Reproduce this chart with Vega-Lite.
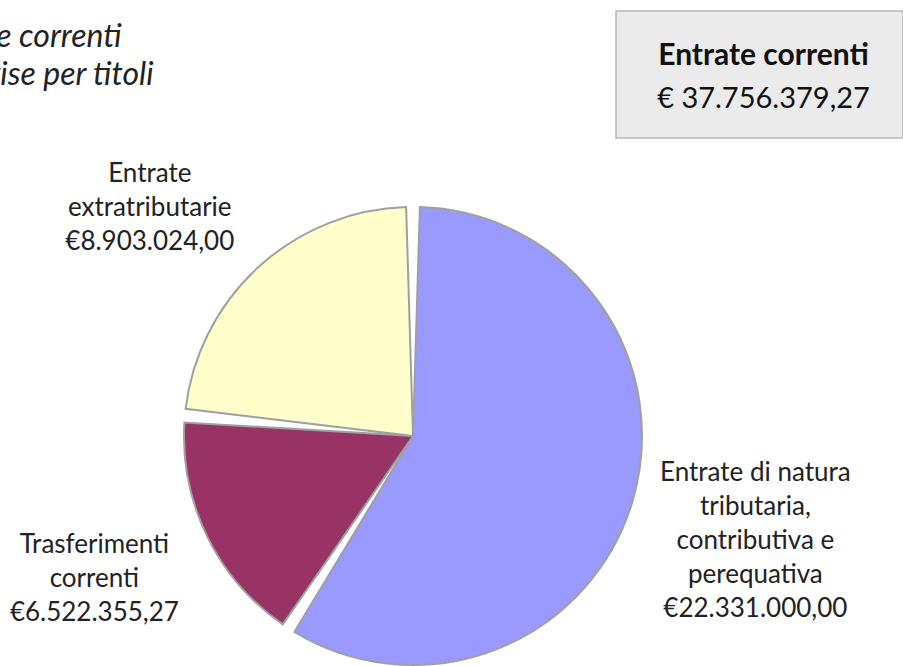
{
  "$schema": "https://vega.github.io/schema/vega-lite/v6.json",
  "padding": {"left": 0, "top": 10, "right": 0, "bottom": 0},
  "bounds": "flush",
  "spacing": 196,
  "config": {
    "font": "Lato",
    "view": {"stroke": null},
    "text": {"font": "Lato", "color": "#222222"}
  },
  "vconcat": [
    {
      "hconcat": [
        {
          "width": 200,
          "height": 90,
          "data": {"values": [
            {"riga": 1, "testo": "Entrate correnti"},
            {"riga": 2, "testo": "suddivise per titoli"}
          ]},
          "mark": {
            "type": "text",
            "clip": true,
            "align": "left",
            "baseline": "middle",
            "fontSize": 32,
            "fontStyle": "italic",
            "dx": -186
          },
          "encoding": {
            "y": {"field": "riga", "type": "ordinal", "axis": null, "scale": {"type": "point", "padding": 0.684}},
            "text": {"field": "testo"}
          }
        },
        {
          "width": 287,
          "height": 127,
          "view": {"fill": "#EBEBEB", "stroke": "#B8B8B8", "strokeWidth": 1.5},
          "data": {"values": [
            {"riga": 1, "testo": "Entrate correnti"},
            {"riga": 2, "testo": "€ 37.756.379,27"}
          ]},
          "encoding": {
            "y": {"field": "riga", "type": "ordinal", "axis": null, "scale": {"type": "point", "padding": 0.95}},
            "text": {"field": "testo"}
          },
          "layer": [
            {
              "transform": [{"filter": "datum.riga == 1"}],
              "mark": {"type": "text", "fontSize": 30, "fontWeight": "bold", "dx": 4, "dy": 3, "color": "#111111"}
            },
            {
              "transform": [{"filter": "datum.riga == 2"}],
              "mark": {"type": "text", "fontSize": 29, "dx": 4, "dy": 3, "color": "#111111"}
            }
          ]
        }
      ],
      "spacing": 415
    },
    {
      "width": 826,
      "height": 458,
      "data": {"values": [
        {"ordine": 1, "titolo": "Entrate di natura tributaria, contributiva e perequativa", "etichetta": "Entrate di natura\ntributaria,\ncontributiva e\nperequativa\n€22.331.000,00", "importo": 22331000.00},
        {"ordine": 2, "titolo": "Trasferimenti correnti", "etichetta": "Trasferimenti\ncorrenti\n€6.522.355,27", "importo": 6522355.27},
        {"ordine": 3, "titolo": "Entrate extratributarie", "etichetta": "Entrate\nextratributarie\n€8.903.024,00", "importo": 8903024.00}
      ]},
      "encoding": {
        "theta": {"field": "importo", "type": "quantitative", "stack": true},
        "order": {"field": "ordine", "type": "quantitative"}
      },
      "layer": [
        {
          "mark": {"type": "arc", "padAngle": 0.06, "stroke": "#A0A0A0", "strokeWidth": 2},
          "encoding": {
            "color": {
              "field": "titolo",
              "type": "nominal",
              "legend": null,
              "scale": {
                "domain": ["Entrate di natura tributaria, contributiva e perequativa", "Trasferimenti correnti", "Entrate extratributarie"],
                "range": ["#9999FF", "#993366", "#FFFFCC"]
              }
            }
          }
        },
        {
          "mark": {"type": "text", "radius": 357, "fontSize": 26, "lineBreak": "\n", "lineHeight": 34, "align": "center", "baseline": "middle", "dy": -64},
          "encoding": {"text": {"condition": {"test": "datum.ordine == 1", "field": "etichetta"}, "value": ""}}
        },
        {
          "mark": {"type": "text", "radius": 350, "fontSize": 26, "lineBreak": "\n", "lineHeight": 34, "align": "center", "baseline": "middle", "dx": -4, "dy": -44},
          "encoding": {"text": {"condition": {"test": "datum.ordine == 2", "field": "etichetta"}, "value": ""}}
        },
        {
          "mark": {"type": "text", "radius": 350, "fontSize": 26, "lineBreak": "\n", "lineHeight": 34, "align": "center", "baseline": "middle", "dx": -27, "dy": -4},
          "encoding": {"text": {"condition": {"test": "datum.ordine == 3", "field": "etichetta"}, "value": ""}}
        }
      ]
    }
  ]
}
